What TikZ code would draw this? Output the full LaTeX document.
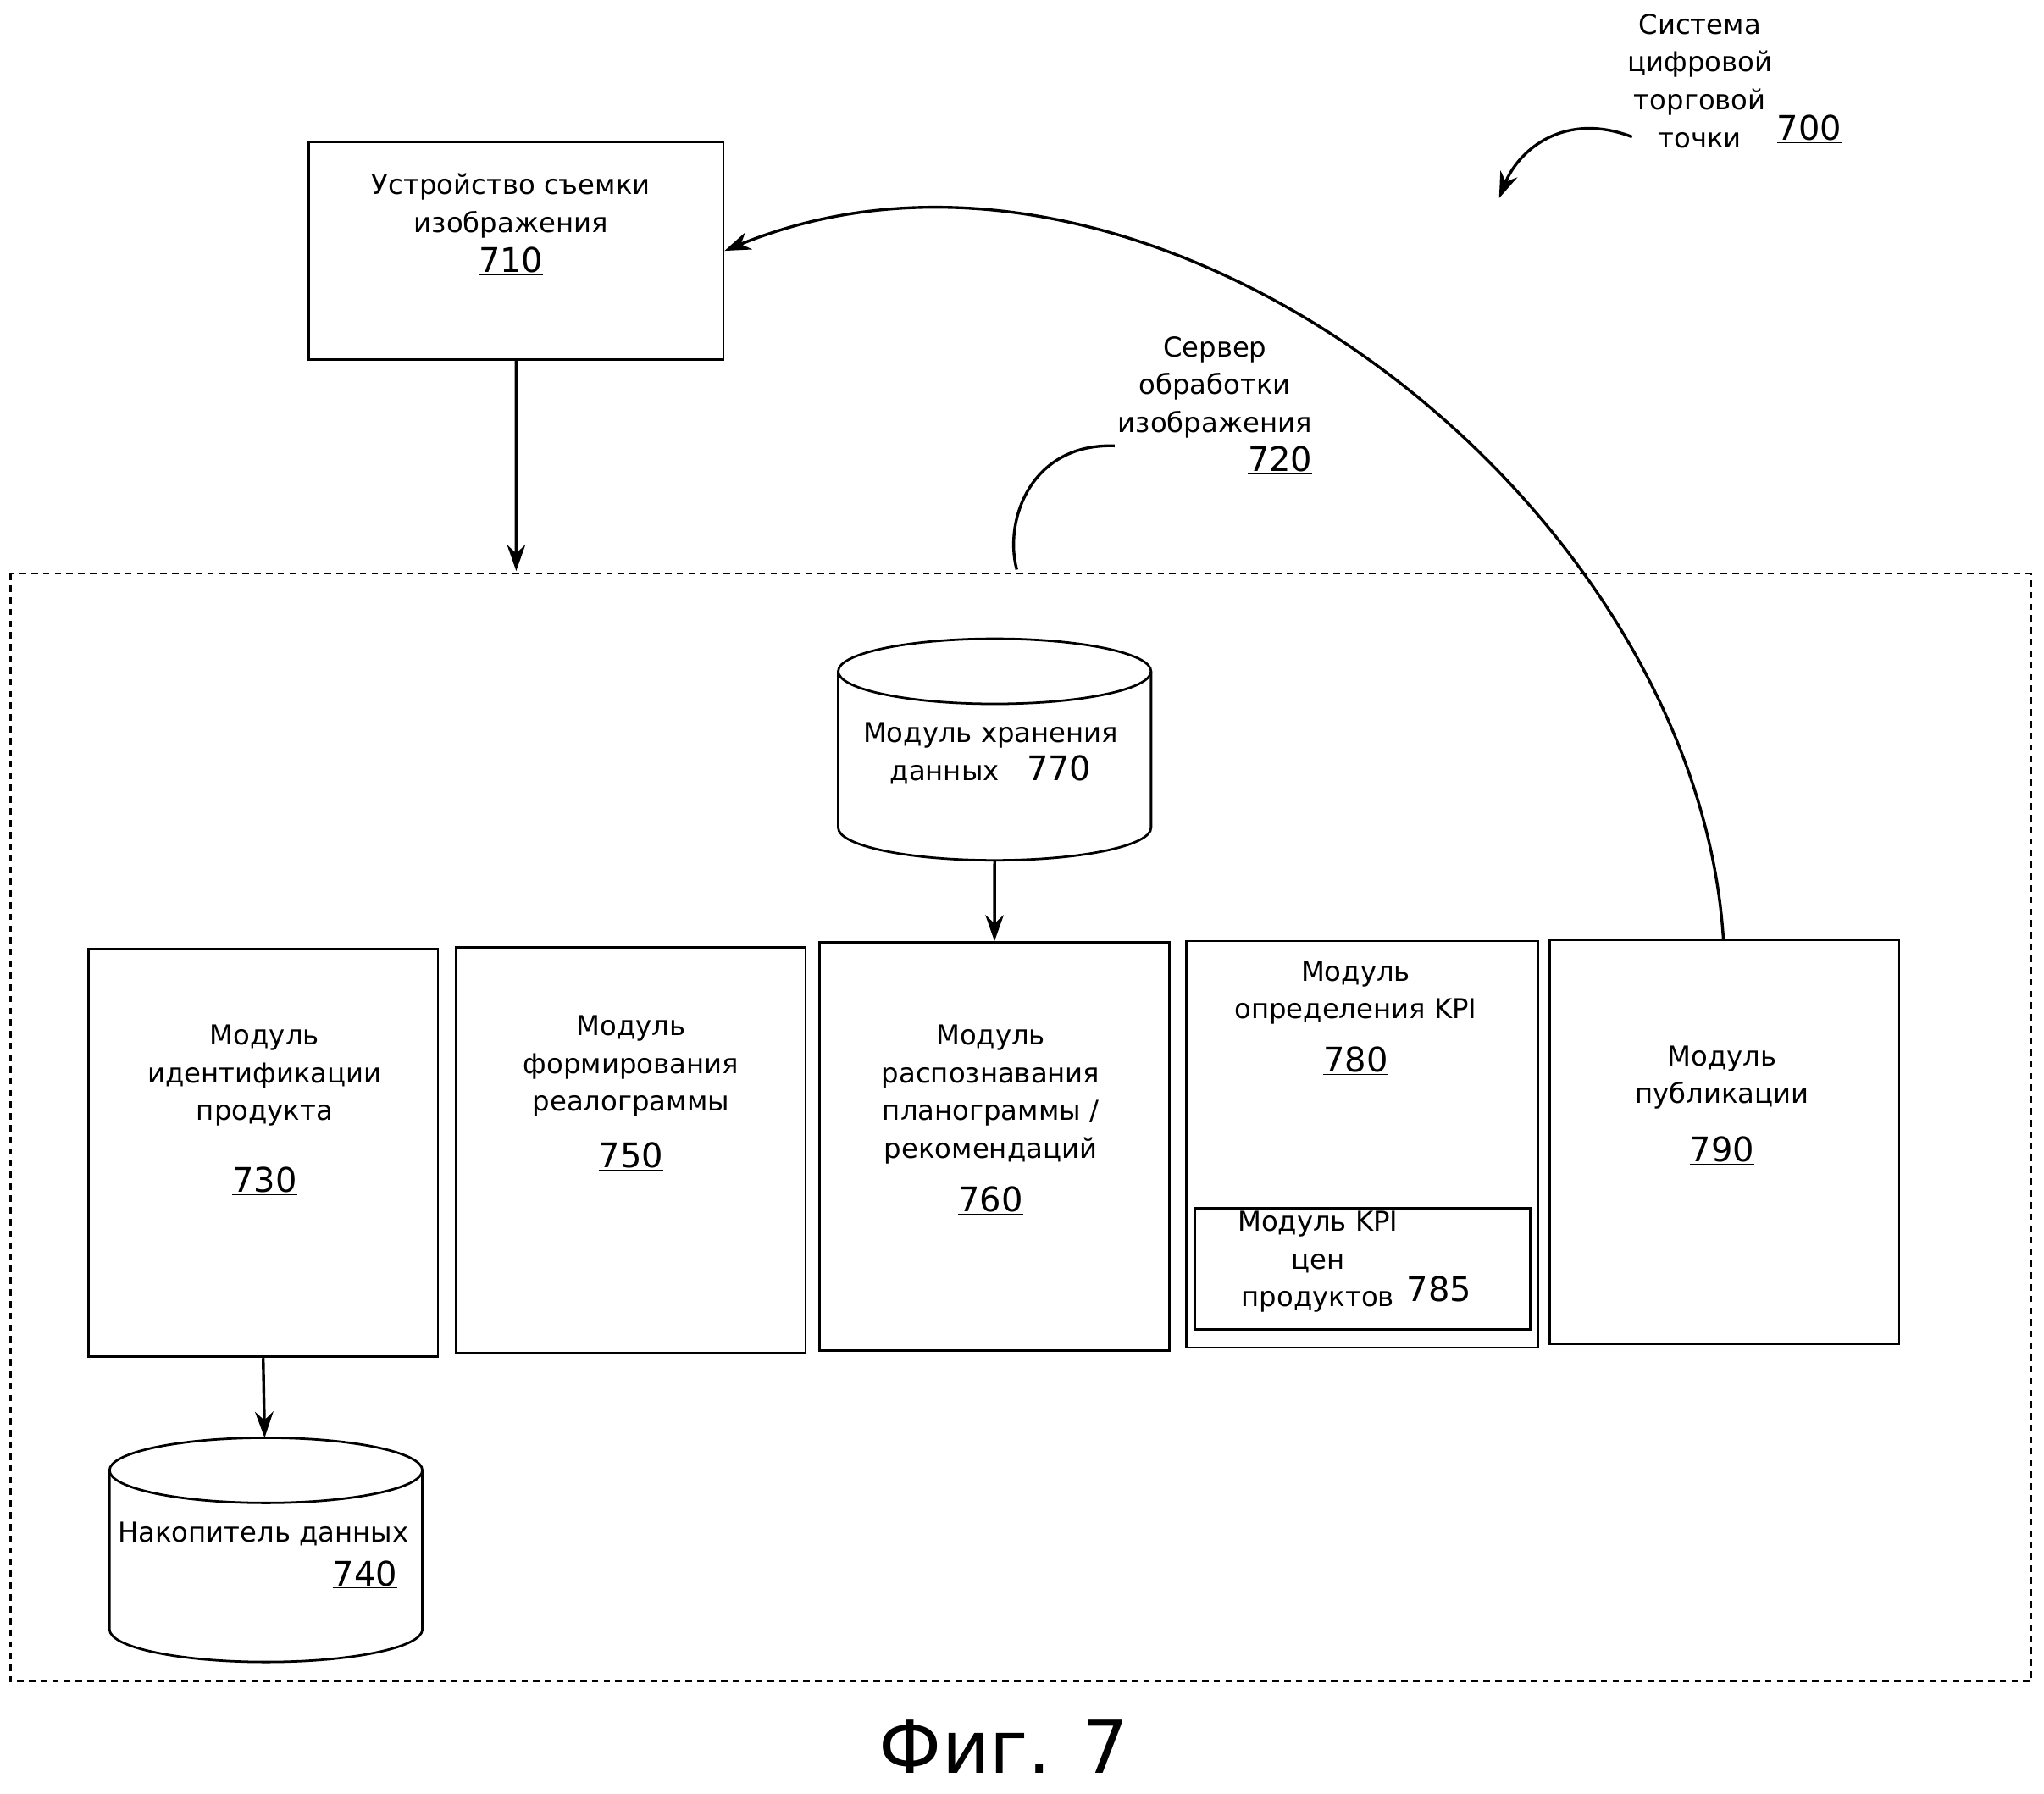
\documentclass[tikz,border=0pt]{standalone}
\usepackage{fontspec}
\setmainfont{DejaVu Sans}
\usetikzlibrary{arrows.meta}
\newcommand{\num}[1]{{\fontsize{26}{29}\selectfont\underline{#1}}}
\begin{document}
\begin{tikzpicture}[x=1pt,y=-1pt,
  box/.style={draw,line width=1.8pt},
  txt/.style={font=\fontsize{21}{29}\selectfont,align=center,inner sep=0pt},
  arr/.style={line width=2.2pt,-{Stealth[length=20pt,width=14pt]}},
  cyl/.style={draw,line width=1.8pt}]
\useasboundingbox (0,0) rectangle (1568,1376);
% box 710
\node[box,minimum width=318pt,minimum height=167pt,anchor=north west] (b710) at (236,108) {};
\node[txt,anchor=north] (t710) at (392,133) {Устройство съемки\\изображения\\[2pt]\num{710}};
% server dashed
\draw[line width=1.6pt,dash pattern=on 5pt off 4pt] (8,440) rectangle (1558,1290);
\coordinate (srvtop) at (396,438);
\coordinate (srvcurve) at (780,437);
\draw[arr] (b710.south) -- (srvtop);
\node[txt] (t720) at (932,297) {Сервер\\обработки\\изображения};
\node[txt] (n720) at (982,353) {\num{720}};
\draw[line width=2.2pt] (855,342) .. controls (790,340) and (770,400) .. (srvcurve);
% system label
\node[txt] (t700) at (1304,62) {Система\\цифровой\\торговой\\точки};
\node[txt] (n700) at (1388,99) {\num{700}};
\coordinate (a700s) at (1252,105);
\coordinate (a700e) at (1150,152);
\draw[arr] (a700s) .. controls (1200,85) and (1165,115) .. (a700e);
% cylinder 770
\draw[cyl,fill=white] (643,515) -- (643,635) arc[start angle=180,end angle=0,x radius=120,y radius=25] -- (883,515);
\draw[cyl] (763,515) ellipse[x radius=120,y radius=25];
\coordinate (c770) at (763,660);
\node[txt] (t770) at (760,578) {Модуль хранения\\данных\quad\num{770}};
% module boxes
\node[box,minimum width=268pt,minimum height=313pt,anchor=north west] (b730) at (67,727) {};
\node[box,minimum width=268pt,minimum height=311pt,anchor=north west] (b750) at (349,726) {};
\node[box,minimum width=268pt,minimum height=313pt,anchor=north west] (b760) at (628,722) {};
\node[box,minimum width=270pt,minimum height=312pt,anchor=north west] (b780) at (909,721) {};
\node[box,minimum width=268pt,minimum height=310pt,anchor=north west] (b790) at (1188,720) {};
\node[box,minimum width=257pt,minimum height=93pt,anchor=north west] (b785) at (916,926) {};
\node[txt,anchor=north] at (203,786) {Модуль\\идентификации\\продукта\\[26pt]\num{730}};
\node[txt,anchor=north] at (484,779) {Модуль\\формирования\\реалограммы\\[14pt]\num{750}};
\node[txt,anchor=north] at (760,786) {Модуль\\распознавания\\планограммы /\\рекомендаций\\[12pt]\num{760}};
\node[txt,anchor=north] at (1040,737) {Модуль\\определения KPI\\[12pt]\num{780}};
\node[txt,anchor=north] at (1011,929) {Модуль KPI\\цен\\продуктов};
\node[txt] at (1104,990) {\num{785}};
\node[txt,anchor=north] at (1321,802) {Модуль\\публикации\\[16pt]\num{790}};
\draw[arr] (c770) -- (b760.north);
% cylinder 740
\draw[cyl] (84,1128) -- (84,1250) arc[start angle=180,end angle=0,x radius=120,y radius=25] -- (324,1128);
\draw[cyl] (204,1128) ellipse[x radius=120,y radius=25];
\coordinate (c740) at (203,1103);
\node[txt] (t740) at (202,1177) {Накопитель данных};
\node[txt] (n740) at (280,1208) {\num{740}};
\draw[arr] (b730.south) -- (c740);
% big arc
\draw[arr] (1322,720) .. controls (1300,380) and (880,60) .. (b710.east);
% caption
\node[font=\fontsize{56}{66}\selectfont,inner sep=0pt] (fig) at (770,1340) {Фиг. 7};
\end{tikzpicture}
\end{document}
